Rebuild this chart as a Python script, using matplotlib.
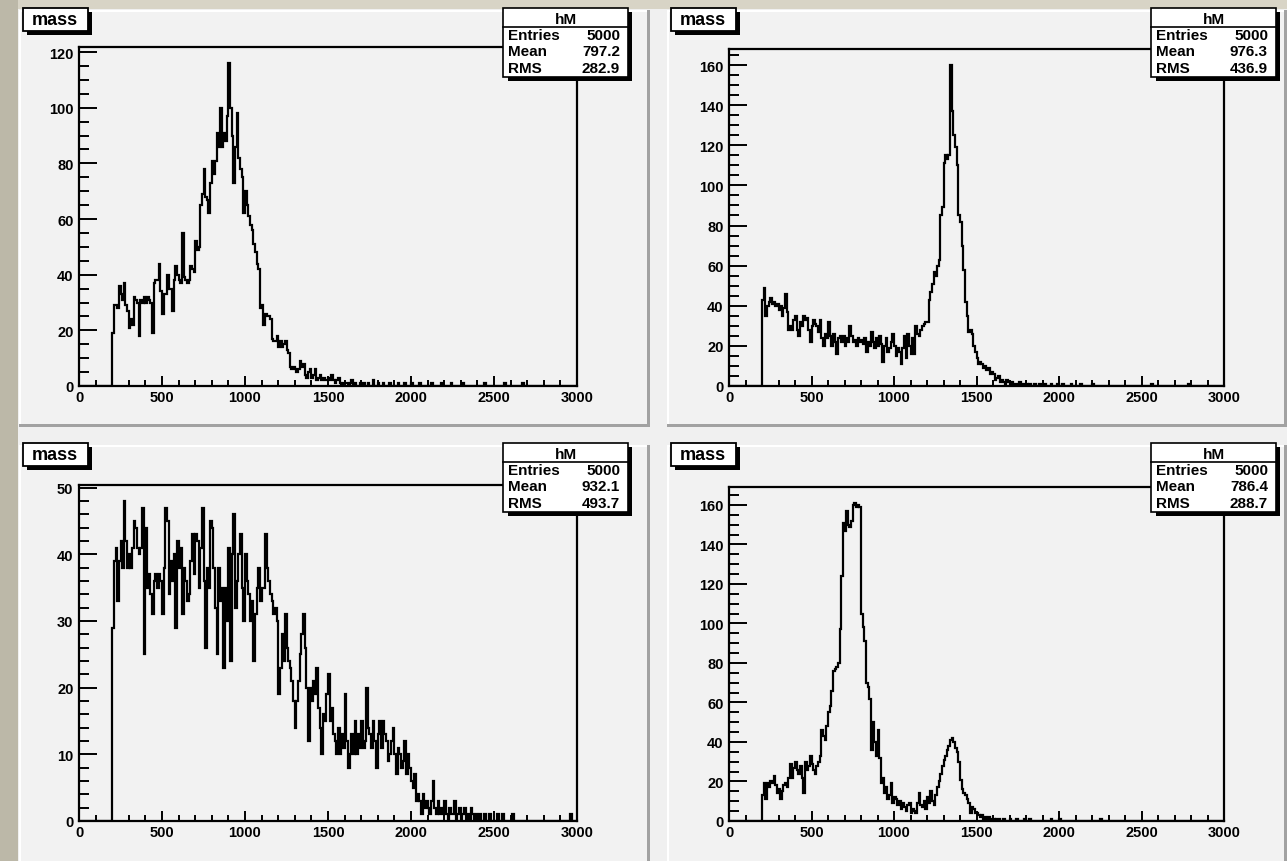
import numpy as np
import matplotlib
matplotlib.use("Agg")
import matplotlib.pyplot as plt
from matplotlib.patches import Rectangle
from matplotlib.ticker import MultipleLocator

W, H, DPI = 1287, 862, 100

# ---------------- data ----------------
x_min, x_max, bin_width = 0, 3000, 10
first_filled = 200          # first bin that holds entries
hist_title = "mass"
hist_name = "hM"
stat_labels = ["Entries", "Mean", "RMS"]
x_major, x_minor = 500, 100

# counts per 10-unit bin, starting at 200 (one row = 100 units)
counts_tl = [
    19, 29, 29, 28, 36, 33, 31, 37, 29, 27,
    21, 24, 22, 32, 31, 30, 18, 31, 30, 32,
    30, 32, 31, 30, 19, 37, 38, 38, 44, 34,
    26, 33, 33, 40, 35, 35, 27, 38, 43, 40,
    38, 37, 55, 39, 38, 37, 38, 43, 42, 41,
    52, 49, 50, 65, 69, 78, 68, 67, 62, 73,
    81, 76, 81, 91, 86, 100, 86, 91, 88, 97,
    116, 100, 90, 73, 86, 98, 82, 78, 75, 62,
    70, 65, 61, 58, 56, 51, 48, 44, 42, 28,
    29, 22, 26, 25, 25, 24, 17, 16, 16, 18,
    14, 16, 14, 15, 16, 13, 12, 7, 6, 7,
    6, 5, 6, 9, 7, 8, 4, 3, 5, 6,
    3, 4, 6, 2, 3, 4, 2, 3, 2, 2,
    3, 2, 4, 2, 1, 2, 3, 1, 0, 1,
    1, 1, 0, 1, 2, 0, 1, 0, 0, 1,
    0, 1, 0, 0, 1, 0, 0, 2, 0, 0,
    1, 0, 0, 1, 0, 0, 0, 1, 0, 0,
    0, 0, 1, 0, 0, 0, 1, 0, 0, 0,
    1, 0, 0, 0, 0, 1, 0, 0, 0, 0,
    0, 0, 1, 0, 0, 0, 0, 0, 1, 0,
    0, 0, 0, 0, 1, 0, 0, 0, 0, 0,
    0, 1, 0, 0, 0, 0, 0, 0, 0, 0,
    0, 0, 0, 0, 1, 0, 0, 0, 0, 0,
    0, 0, 0, 0, 0, 0, 1, 0, 0, 0,
    0, 0, 0, 0, 0, 0, 0, 1, 0, 0,
    0, 0, 0, 0, 0, 0, 0, 0, 0, 0,
    0, 0, 0, 0, 0, 0, 0, 0, 0, 0,
    0, 0, 0, 0, 0, 0, 0, 0, 0, 0,
]

counts_tr = [
    43, 49, 35, 40, 42, 44, 41, 42, 40, 41,
    38, 40, 35, 39, 46, 37, 28, 30, 28, 33,
    35, 28, 25, 32, 30, 35, 33, 34, 28, 22,
    30, 33, 31, 30, 27, 33, 24, 20, 26, 24,
    32, 25, 20, 26, 22, 16, 24, 25, 22, 25,
    20, 24, 22, 30, 25, 22, 23, 20, 24, 22,
    23, 21, 24, 17, 22, 20, 27, 22, 19, 24,
    20, 25, 21, 12, 20, 24, 17, 19, 22, 26,
    20, 15, 19, 17, 11, 19, 25, 14, 26, 20,
    16, 24, 16, 30, 26, 25, 28, 30, 31, 32,
    32, 43, 47, 51, 57, 55, 60, 63, 85, 89,
    111, 115, 113, 115, 160, 137, 125, 119, 110, 85,
    82, 70, 58, 42, 35, 27, 28, 26, 20, 17,
    14, 11, 12, 11, 9, 10, 8, 9, 6, 7,
    6, 3, 4, 5, 2, 3, 2, 1, 3, 2,
    1, 2, 0, 1, 1, 0, 2, 0, 1, 0,
    1, 0, 1, 0, 0, 1, 0, 0, 1, 0,
    0, 1, 0, 0, 0, 1, 0, 0, 0, 1,
    0, 0, 1, 0, 0, 0, 0, 1, 0, 0,
    0, 0, 0, 1, 0, 0, 0, 0, 0, 0,
    1, 0, 0, 0, 0, 0, 0, 0, 0, 0,
    0, 0, 0, 0, 0, 0, 0, 0, 0, 0,
    0, 0, 0, 0, 0, 0, 0, 0, 0, 0,
    0, 0, 0, 0, 0, 0, 1, 0, 0, 0,
    0, 0, 0, 0, 0, 0, 0, 0, 0, 0,
    0, 0, 0, 0, 0, 0, 0, 0, 1, 0,
    0, 0, 0, 0, 0, 0, 0, 0, 0, 0,
    0, 0, 0, 0, 0, 0, 0, 0, 0, 0,
]

counts_bl = [
    29, 39, 41, 33, 39, 42, 38, 48, 42, 38,
    40, 38, 41, 45, 44, 41, 40, 41, 47, 25,
    44, 35, 37, 34, 31, 36, 37, 35, 37, 36,
    31, 38, 47, 45, 34, 39, 36, 40, 29, 42,
    38, 41, 31, 38, 36, 33, 34, 39, 43, 37,
    43, 42, 35, 41, 47, 36, 26, 38, 35, 45,
    44, 38, 32, 25, 38, 33, 35, 23, 35, 30,
    41, 24, 40, 46, 32, 36, 40, 43, 35, 30,
    40, 36, 34, 30, 33, 24, 31, 35, 38, 33,
    35, 35, 43, 38, 36, 34, 33, 31, 32, 30,
    19, 23, 28, 24, 31, 26, 24, 23, 21, 18,
    14, 18, 21, 25, 28, 31, 26, 20, 12, 20,
    18, 21, 19, 23, 17, 14, 10, 16, 15, 19,
    22, 15, 17, 13, 12, 10, 14, 10, 13, 11,
    19, 12, 8, 10, 13, 10, 15, 10, 13, 11,
    15, 11, 12, 20, 14, 13, 11, 15, 12, 8,
    13, 15, 11, 15, 13, 12, 9, 10, 12, 14,
    10, 7, 11, 10, 8, 9, 12, 7, 10, 8,
    6, 5, 7, 3, 4, 3, 1, 4, 2, 3,
    2, 1, 3, 6, 2, 1, 3, 1, 2, 1,
    3, 1, 0, 2, 1, 1, 3, 0, 1, 2,
    0, 1, 2, 0, 1, 0, 2, 1, 0, 1,
    0, 1, 0, 0, 1, 0, 0, 1, 0, 0,
    0, 0, 1, 0, 0, 1, 0, 0, 0, 0,
    0, 1, 0, 0, 0, 0, 0, 0, 0, 0,
    0, 0, 0, 0, 0, 0, 0, 0, 0, 0,
    0, 0, 0, 0, 0, 0, 0, 0, 0, 0,
    0, 0, 0, 0, 0, 0, 1, 0, 0, 0,
]

counts_br = [
    13, 19, 11, 19, 17, 20, 19, 23, 18, 14,
    16, 11, 15, 18, 19, 17, 22, 29, 22, 27,
    30, 26, 24, 28, 22, 14, 30, 26, 28, 33,
    29, 26, 24, 28, 30, 33, 46, 43, 41, 48,
    55, 58, 66, 76, 77, 78, 80, 97, 124, 151,
    147, 157, 150, 149, 152, 160, 161, 159, 160, 159,
    105, 98, 91, 70, 68, 62, 36, 50, 40, 33,
    46, 32, 19, 22, 14, 17, 11, 13, 19, 9,
    12, 11, 8, 10, 6, 9, 7, 5, 8, 9,
    4, 6, 5, 4, 9, 14, 8, 7, 10, 6,
    12, 9, 15, 10, 8, 13, 17, 20, 24, 28,
    31, 33, 36, 38, 41, 42, 40, 37, 35, 30,
    21, 16, 14, 13, 11, 9, 4, 7, 6, 4,
    4, 3, 2, 3, 1, 2, 1, 2, 1, 0,
    1, 0, 1, 1, 0, 0, 1, 0, 0, 0,
    1, 0, 0, 0, 1, 0, 0, 0, 0, 1,
    0, 0, 1, 0, 0, 0, 0, 0, 0, 0,
    0, 0, 0, 0, 0, 1, 0, 0, 0, 0,
    1, 0, 0, 0, 0, 0, 0, 0, 0, 0,
    0, 0, 0, 0, 0, 0, 0, 0, 0, 0,
    0, 0, 0, 0, 0, 1, 0, 0, 0, 0,
    0, 0, 0, 0, 0, 0, 0, 0, 0, 0,
    0, 0, 0, 0, 0, 0, 0, 0, 0, 0,
    0, 0, 0, 0, 0, 0, 0, 0, 0, 0,
    0, 0, 0, 0, 0, 0, 0, 0, 0, 0,
    0, 0, 0, 0, 0, 0, 0, 0, 0, 0,
    0, 0, 0, 0, 0, 0, 0, 0, 0, 0,
    0, 0, 0, 0, 0, 0, 0, 0, 0, 0,
]

stats_tl = ["5000", "797.2", "282.9"]
stats_tr = ["5000", "976.3", "436.9"]
stats_bl = ["5000", "932.1", "493.7"]
stats_br = ["5000", "786.4", "288.7"]

y_major = {"tl": 20, "tr": 20, "bl": 10, "br": 20}
y_minor = {"tl": 5, "tr": 5, "bl": 2, "br": 5}

# ---------------- style ----------------
FONT = "Liberation Sans"
PAD_COL = "#f2f2f2"
plt.rcParams["font.family"] = [FONT, "DejaVu Sans"]
plt.rcParams["font.weight"] = "bold"

fig = plt.figure(figsize=(W / DPI, H / DPI), dpi=DPI)
fig.patch.set_facecolor("#d8d4c6")


def frac(x0, y0, x1, y1):
    return [x0 / W, 1 - y1 / H, (x1 - x0) / W, (y1 - y0) / H]


bg = fig.add_axes([0, 0, 1, 1], zorder=0)
bg.set_xlim(0, W)
bg.set_ylim(H, 0)
bg.axis("off")

ov = fig.add_axes([0, 0, 1, 1], zorder=10)
ov.set_xlim(0, W)
ov.set_ylim(H, 0)
ov.axis("off")
ov.patch.set_alpha(0)


def rect(ax, x0, y0, x1, y1, **kw):
    ax.add_patch(Rectangle((x0, y0), x1 - x0, y1 - y0, **kw))


# outer window band (left darker strip) and canvas
rect(bg, 0, 0, 18, H, facecolor="#bcb8a8", edgecolor="none")
rect(bg, 18, 10, W, H, facecolor="#f0f0f0", edgecolor="none")

pads = {
    "tl": (19, 11, 650, 428),
    "tr": (667, 11, W, 428),
    "bl": (19, 446, 650, H + 5),
    "br": (667, 446, W, H + 5),
}
for key, (x0, y0, x1, y1) in pads.items():
    rect(bg, x0, y0, x1, y1, facecolor=PAD_COL, edgecolor="none")
    rect(bg, x0, y0, x1, y0 + 2, facecolor="white", edgecolor="none")
    rect(bg, x0, y0, x0 + 2, y1, facecolor="white", edgecolor="none")
    rect(bg, x0, y1 - 3, x1, y1, facecolor="#a2a2a2", edgecolor="none")
    rect(bg, x1 - 3, y0, x1, y1, facecolor="#a2a2a2", edgecolor="none")

frames = {
    "tl": (79, 48, 577, 387),
    "tr": (729, 50, 1224, 387),
    "bl": (79, 486, 577, 822),
    "br": (729, 488, 1224, 822),
}
counts = {"tl": counts_tl, "tr": counts_tr, "bl": counts_bl, "br": counts_br}
stats = {"tl": stats_tl, "tr": stats_tr, "bl": stats_bl, "br": stats_br}

edges = np.arange(x_min, x_max + bin_width, bin_width)
n_empty = (first_filled - x_min) // bin_width

for key, fr in frames.items():
    vals = np.concatenate([np.zeros(n_empty), np.array(counts[key], float)])
    ax = fig.add_axes(frac(*fr), zorder=5)
    ax.set_facecolor(PAD_COL)
    ax.stairs(vals, edges, color="black", lw=1.6, baseline=None)
    ax.set_xlim(x_min, x_max)
    ax.set_ylim(0, vals.max() * 1.05)
    ax.xaxis.set_major_locator(MultipleLocator(x_major))
    ax.xaxis.set_minor_locator(MultipleLocator(x_minor))
    ax.yaxis.set_major_locator(MultipleLocator(y_major[key]))
    ax.yaxis.set_minor_locator(MultipleLocator(y_minor[key]))
    for sp in ax.spines.values():
        sp.set_linewidth(1.6)
        sp.set_color("black")
    ax.tick_params(axis="y", which="major", direction="in", length=13, width=1.4,
                   pad=4, labelsize=10.5)
    ax.tick_params(axis="y", which="minor", direction="in", length=7, width=1.4)
    ax.tick_params(axis="x", which="major", direction="in", length=7, width=1.4,
                   pad=3, labelsize=10.5)
    ax.tick_params(axis="x", which="minor", direction="in", length=4, width=1.4)
    for lab in ax.get_xticklabels() + ax.get_yticklabels():
        lab.set_fontweight("bold")
        lab.set_family([FONT, "DejaVu Sans"])

    # title box
    px0, py0 = pads[key][0], pads[key][1]
    tx0, ty0, tx1, ty1 = px0 + 4, py0 - 2, px0 + 69, py0 + 21
    rect(ov, tx0 + 4, ty0 + 4, tx1 + 4, ty1 + 4, facecolor="black", edgecolor="none")
    rect(ov, tx0, ty0, tx1, ty1, facecolor="white", edgecolor="black", lw=1.3)
    ov.text((tx0 + tx1) / 2 - 1, (ty0 + ty1) / 2, hist_title, ha="center",
            va="center", fontsize=13, fontweight="bold")

    # stats box
    sx1 = pads[key][0] + 609
    sx0 = sx1 - 125
    sy0, sy1 = py0 - 2, py0 + 67
    rect(ov, sx0 + 5, sy0 + 4, sx1 + 4, sy1 + 4, facecolor="black", edgecolor="none")
    rect(ov, sx0, sy0, sx1, sy1, facecolor="white", edgecolor="black", lw=1.2)
    ov.plot([sx0, sx1], [sy0 + 19, sy0 + 19], color="black", lw=1.2)
    ov.text((sx0 + sx1) / 2, sy0 + 11, hist_name, ha="center", va="center",
            fontsize=11, fontweight="bold")
    for i, (lab, val) in enumerate(zip(stat_labels, stats[key])):
        yy = sy0 + 27 + i * 16.5
        ov.text(sx0 + 5, yy, lab, ha="left", va="center", fontsize=11,
                fontweight="bold")
        ov.text(sx1 - 8, yy, val, ha="right", va="center", fontsize=11,
                fontweight="bold")

fig.savefig("out.png", dpi=DPI, facecolor=fig.get_facecolor())
